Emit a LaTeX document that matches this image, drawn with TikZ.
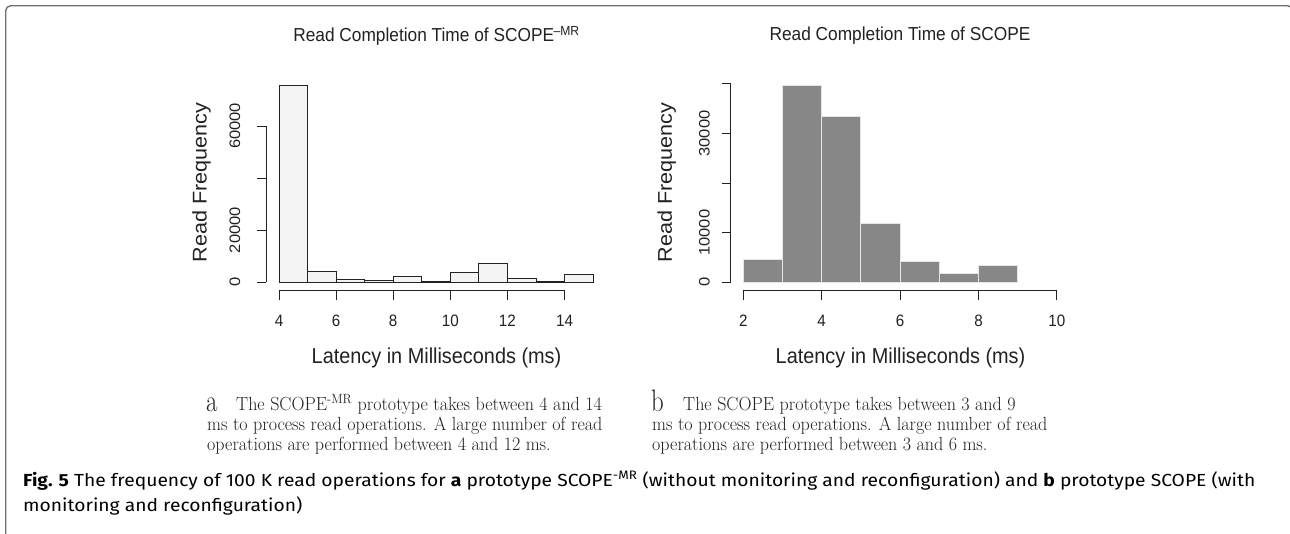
\documentclass[tikz,border=0pt]{standalone}
\usepackage{fontspec}
\setmainfont{Latin Modern Roman}
\newfontfamily\plotfont{Liberation Sans}
\newfontfamily\capfont{Fira Sans}
\usepackage{graphicx}

\definecolor{ink}{HTML}{222222}
\definecolor{framegray}{HTML}{707070}
\definecolor{barlight}{HTML}{F4F4F4}
\definecolor{bardark}{HTML}{878787}
\definecolor{baredge}{HTML}{E6E6E6}

% horizontally narrowed (or widened) text
\newcommand\narrowtxt[2][0.92]{\scalebox{#1}[1]{#2}}

\tikzset{
  frameline/.style={draw=framegray, line width=1.4pt, rounded corners=5pt},
  axisline/.style={draw=ink, line width=0.9pt},
  barA/.style={draw=ink, fill=barlight, line width=0.9pt},
  barB/.style={draw=baredge, fill=bardark, line width=0.9pt},
  ptitle/.style={font=\plotfont\fontsize{18.8}{20}\selectfont, text=ink, inner sep=0pt},
  plabel/.style={font=\plotfont\fontsize{21.6}{24}\selectfont, text=ink, inner sep=0pt},
  ptick/.style={font=\plotfont\fontsize{16.5}{18}\selectfont, text=ink, inner sep=0pt},
  subletter/.style={font=\fontsize{31}{31}\selectfont, text=ink, inner sep=0pt, anchor=base west},
  subtext/.style={font=\fontsize{19}{20}\selectfont, text=ink, inner sep=0pt, anchor=base west},
  captext/.style={font=\capfont\fontsize{17.5}{20}\selectfont, text=black, inner sep=0pt, anchor=base west},
}

\begin{document}
\begin{tikzpicture}[x=1pt,y=-1pt]
\useasboundingbox (0,0) rectangle (1290,533);
\fill[white] (0,0) rectangle (1290,533);

% outer frame: left side and top edge with rounded corners
\begin{scope}
  \clip (0,0) rectangle (1290,533);
  \draw[frameline] (5.7,545) |- (1292.5,5.7) -- (1292.5,545);
\end{scope}

% ---------------- left histogram ----------------
\node[ptitle] (titleA) at (436.5,36) {\narrowtxt{Read Completion Time of SCOPE\textsuperscript{\kern-0.5pt –MR}}};

\begin{scope}[shift={(279,282.3)}, x=28.55pt, y=2.605pt]
  \foreach \a/\h in {0/75.6, 1/4.07, 2/1.15, 3/0.6, 4/2.3, 5/0.2, 6/3.8, 7/7.1, 8/1.5, 9/0.3, 10/2.9}
    \draw[barA] (\a,0) rectangle ({\a+1},\h);
\end{scope}

% y axis
\coordinate (ayb) at (266,282.3);
\coordinate (ayt) at (266,126.0);
\draw[axisline] (ayb) -- (ayt);
\foreach \y in {282.3,230.2,178.1,126.0}
  \draw[axisline] (266,\y) -- (257,\y);
\node[ptick] (ayl0) at (235,282.3) {\narrowtxt{\rotatebox{90}{0}}};
\node[ptick] (ayl20) at (235,230.2) {\narrowtxt{\rotatebox{90}{20000}}};
\node[ptick] (ayl60) at (235,126.0) {\narrowtxt{\rotatebox{90}{60000}}};
\node[plabel] (ylabA) at (201.5,182.7) {\narrowtxt{\rotatebox{90}{Read Frequency}}};

% x axis
\coordinate (axl) at (279,290.7);
\coordinate (axr) at (564.5,290.7);
\draw[axisline] (axl) -- (axr);
\foreach \x/\t in {279/4, 336.1/6, 393.2/8, 450.3/10, 507.4/12, 564.5/14} {
  \draw[axisline] (\x,290.7) -- (\x,299.5);
  \node[ptick] (axt\t) at (\x,320.7) {\narrowtxt{\t}};
}
\node[plabel] (xlabA) at (436.5,358) {\narrowtxt{Latency in Milliseconds (ms)}};

% ---------------- right histogram ----------------
\node[ptitle] (titleB) at (900,36) {\narrowtxt{Read Completion Time of SCOPE}};

\begin{scope}[shift={(743.3,282.3)}, x=39.2pt, y=4.96pt]
  \foreach \a/\h in {0/4.64, 1/39.7, 2/33.4, 3/11.8, 4/4.15, 5/1.82, 6/3.35}
    \draw[barB] (\a,0) rectangle ({\a+1},\h);
\end{scope}

\coordinate (byb) at (730.7,282.3);
\coordinate (byt) at (730.7,83.9);
\draw[axisline] (byb) -- (byt);
\foreach \y in {282.3,232.7,183.1,133.5,83.9}
  \draw[axisline] (730.7,\y) -- (721.7,\y);
\node[ptick] (byl0) at (704.5,282.3) {\narrowtxt{\rotatebox{90}{0}}};
\node[ptick] (byl10) at (704.5,232.7) {\narrowtxt{\rotatebox{90}{10000}}};
\node[ptick] (byl30) at (704.5,133.5) {\narrowtxt{\rotatebox{90}{30000}}};
\node[plabel] (ylabB) at (666.7,182.7) {\narrowtxt{\rotatebox{90}{Read Frequency}}};

\coordinate (bxl) at (743.3,290.7);
\coordinate (bxr) at (1056.9,290.7);
\draw[axisline] (bxl) -- (bxr);
\foreach \x/\t in {743.3/2, 821.7/4, 900.1/6, 978.5/8, 1056.9/10} {
  \draw[axisline] (\x,290.7) -- (\x,299.5);
  \node[ptick] (bxt\t) at (\x,320.7) {\narrowtxt{\t}};
}
\node[plabel] (xlabB) at (900.5,358) {\narrowtxt{Latency in Milliseconds (ms)}};

% ---------------- sub-captions ----------------
\node[subletter] (subA) at (206,411) {\narrowtxt[0.8]{a}};
\node[subtext] (subA1) at (236,410) {\narrowtxt[0.95]{The SCOPE\textsuperscript{-MR} prototype takes between 4 and 14}};
\node[subtext] (subA2) at (207,430) {\narrowtxt[0.95]{ms to process read operations. A large number of read}};
\node[subtext] (subA3) at (207,450) {\narrowtxt[0.95]{operations are performed between 4 and 12 ms.}};

\node[subletter] (subB) at (651,411) {\narrowtxt[0.8]{b}};
\node[subtext] (subB1) at (683,410) {\narrowtxt[0.95]{The SCOPE prototype takes between 3 and 9}};
\node[subtext] (subB2) at (652,430) {\narrowtxt[0.95]{ms to process read operations. A large number of read}};
\node[subtext] (subB3) at (652,450) {\narrowtxt[0.95]{operations are performed between 3 and 6 ms.}};

% ---------------- figure caption ----------------
\node[captext] (cap1) at (23,486) {\narrowtxt[1.1]{\textbf{Fig. 5} The frequency of 100 K read operations for \textbf{a} prototype SCOPE\textsuperscript{-MR} (without monitoring and reconfiguration) and \textbf{b} prototype SCOPE (with}};
\node[captext] (cap2) at (23,511) {\narrowtxt[1.1]{monitoring and reconfiguration)}};
\end{tikzpicture}
\end{document}
